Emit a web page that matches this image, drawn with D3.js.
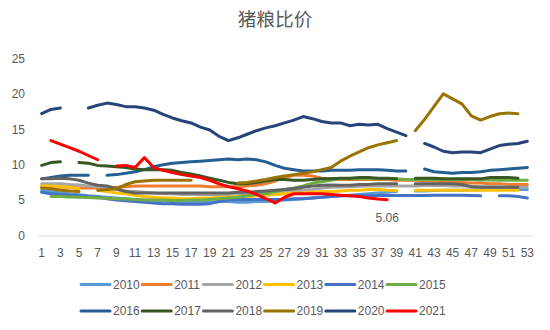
<!DOCTYPE html>
<html><head><meta charset="utf-8">
<script src="https://cdn.jsdelivr.net/npm/d3@7"></script>
<style>
html,body{margin:0;padding:0;background:#fff;}
svg{display:block;font-family:"Liberation Sans",Arial,sans-serif;}
</style></head>
<body><svg id="c" width="550" height="330"></svg>
<script>
const title = "猪粮比价";
const weeks = d3.range(1, 54);
const xTickLabels = weeks.filter(w => w % 2 === 1);
const yTicks = [0, 5, 10, 15, 20, 25];
const years = ["2010","2011","2012","2013","2014","2015","2016","2017","2018","2019","2020","2021"];
const colors = ["#5B9BD5","#ED7D31","#A5A5A5","#FFC000","#4472C4","#70AD47","#255E91","#385723","#636363","#997300","#264478","#FF0000"];
const _ = null;
const v2010 = [6.35,6.2,6.0,5.9,5.75,5.6,5.5,5.4,5.3,5.2,5.1,5.0,5.0,4.9,4.8,4.7,4.7,4.7,4.7,4.8,4.8,4.7,4.7,4.8,4.8,4.9,5.0,5.1,5.2,5.3,5.4,5.5,5.6,5.7,5.8,5.9,6.0,6.1,6.2,_,6.3,6.3,6.35,6.4,6.4,6.4,6.45,6.45,6.5,6.5,6.5,6.5,6.5];
const v2011 = [6.9,6.9,6.8,6.8,6.7,6.7,6.7,6.7,6.8,6.9,7.0,7.0,7.0,7.0,7.0,7.0,7.0,7.0,6.9,6.9,6.9,6.9,7.0,7.1,7.3,7.7,8.2,8.5,8.5,8.4,8.1,8.0,7.9,7.9,7.9,7.9,7.9,7.9,7.8,7.8,7.8,7.7,7.7,7.6,7.5,7.5,7.4,7.4,7.3,7.3,7.2,7.2,7.2];
const v2012 = [7.3,7.3,7.3,7.2,7.15,7.0,6.9,6.7,6.5,6.3,6.2,6.1,6.0,5.9,5.9,5.8,5.8,5.8,5.8,5.8,5.8,5.9,5.9,6.0,6.0,6.1,6.2,6.3,6.4,6.5,6.7,6.8,6.85,6.9,6.95,7.0,7.0,7.0,7.0,7.0,7.0,7.05,7.05,7.05,7.0,7.0,6.95,6.9,6.9,6.85,6.8,6.8,6.8];
const v2013 = [7.0,7.0,6.9,6.8,6.6,_,6.4,6.2,6.0,5.9,5.7,5.5,5.4,5.3,5.3,5.2,5.2,5.3,5.3,5.4,5.4,5.5,5.5,5.6,5.7,5.8,5.9,6.0,6.0,6.1,6.2,6.2,6.3,6.4,6.4,6.5,6.5,6.4,6.35,_,6.4,6.4,6.4,6.4,6.4,6.4,6.4,6.4,6.4,6.4,6.4,6.4,_];
const v2014 = [6.1,5.9,5.8,5.7,5.65,5.5,5.4,5.2,5.0,4.9,4.8,4.7,4.6,4.5,4.5,4.4,4.4,4.4,4.5,4.8,5.0,5.1,5.1,5.1,5.1,5.1,5.1,5.2,5.2,5.3,5.4,5.5,5.6,5.6,5.6,5.6,5.65,5.65,5.65,5.65,5.65,5.65,5.7,5.7,5.7,5.7,5.65,5.6,_,5.6,5.6,5.5,5.3];
const v2015 = [_,5.5,5.5,5.45,5.4,5.35,5.3,5.25,5.2,5.15,5.1,5.0,5.0,5.0,4.95,4.95,5.0,5.0,5.1,5.2,5.3,5.4,5.6,5.8,5.9,6.2,6.5,6.7,7.0,7.4,7.6,7.8,8.0,8.0,8.0,8.0,8.0,8.0,8.0,7.9,7.9,7.9,7.9,7.9,7.9,7.9,7.9,7.85,7.85,7.8,7.8,7.8,7.8];
const v2016 = [8.0,8.2,8.4,8.5,8.5,8.5,_,8.5,8.6,8.8,9.0,9.3,9.7,10.0,10.2,10.3,10.4,10.5,10.6,10.7,10.8,10.7,10.8,10.7,10.4,9.9,9.5,9.3,9.1,9.1,9.1,9.2,9.2,9.2,9.3,9.3,9.3,9.2,9.1,9.1,_,9.4,9.0,8.9,8.8,8.9,8.9,9.0,9.2,9.3,9.4,9.5,9.6];
const v2017 = [9.9,10.3,10.4,_,10.3,10.2,9.9,9.8,9.7,9.6,9.4,9.3,9.3,9.3,9.2,8.9,8.7,8.4,8.1,7.8,7.5,7.3,7.3,7.5,7.7,7.9,7.9,7.8,7.8,7.9,8.0,8.0,8.1,8.1,8.2,8.2,8.1,8.1,8.0,_,8.1,8.1,8.1,8.0,8.0,8.0,8.0,8.0,8.2,8.2,8.2,8.1,_];
const v2018 = [8.0,8.0,8.1,8.0,7.8,7.4,7.1,7.0,6.6,6.2,6.0,6.0,6.0,6.0,6.0,6.0,6.0,6.0,6.0,6.0,6.0,6.1,6.1,6.2,6.3,6.4,6.5,6.6,6.8,7.0,7.1,7.15,7.1,7.1,7.2,7.2,7.3,7.3,7.3,_,7.3,7.3,7.3,7.3,7.3,7.2,6.9,6.8,6.8,6.8,6.8,6.8,_];
const v2019 = [6.7,6.6,6.4,6.3,6.2,_,6.4,6.5,6.6,7.2,7.6,7.7,7.8,7.8,7.8,7.8,7.8,_,_,_,_,7.4,7.5,7.7,7.9,8.2,8.4,8.6,8.8,9.0,9.3,9.6,10.5,11.2,11.8,12.4,12.8,13.1,13.4,_,14.8,16.4,18.2,20.0,19.3,18.6,16.9,16.3,16.8,17.2,17.3,17.2,_];
const v2020 = [17.2,17.8,18.0,_,_,18.0,18.4,18.7,18.5,18.2,18.2,18.0,17.7,17.1,16.6,16.2,15.9,15.3,14.9,14.0,13.4,13.8,14.3,14.8,15.2,15.5,15.9,16.3,16.8,16.5,16.1,15.9,15.9,15.5,15.7,15.6,15.7,15.1,14.6,14.1,_,13.0,12.5,11.9,11.7,11.8,11.8,11.7,12.2,12.7,12.9,13.0,13.3];
const v2021 = [_,13.4,12.9,12.4,11.9,11.3,10.7,_,9.8,9.9,9.6,11.0,9.6,9.2,8.9,8.6,8.4,8.2,7.8,7.3,6.9,6.6,6.3,5.8,5.2,4.6,5.4,5.9,5.9,5.9,5.9,5.8,5.7,5.6,5.5,5.3,5.15,5.06];
const seriesValues = [v2010,v2011,v2012,v2013,v2014,v2015,v2016,v2017,v2018,v2019,v2020,v2021];
const lastLabel = "5.06";

const svg = d3.select("#c");
const x = d3.scaleBand().domain(weeks).range([37, 532]).padding(0);
const cx = w => x(w) + x.bandwidth() / 2;
const y = d3.scaleLinear().domain([0, 25]).range([235.5, 58.5]);

svg.append("text").attr("x", 275).attr("y", 26).attr("text-anchor", "middle")
  .attr("font-size", "18.7px").attr("fill", "#595959")
  .attr("font-family", "'Noto Sans CJK SC',sans-serif").text(title);

const yAxis = svg.append("g").attr("transform", "translate(37,0)")
  .call(d3.axisLeft(y).tickValues(yTicks).tickSize(0).tickPadding(12));
yAxis.select(".domain").remove();
yAxis.selectAll("text").attr("fill", "#595959").attr("font-size", "12px").attr("font-family", "'Liberation Sans',Arial,sans-serif");

const xAxis = svg.append("g").attr("transform", "translate(0,235.5)")
  .call(d3.axisBottom(x).tickValues(xTickLabels).tickSize(0).tickPadding(13));
xAxis.select(".domain").attr("stroke", "#d9d9d9").attr("stroke-width", 1);
xAxis.selectAll("text").attr("fill", "#595959").attr("font-size", "12px").attr("font-family", "'Liberation Sans',Arial,sans-serif");

const line = d3.line().defined(d => d.v != null).x(d => cx(d.w)).y(d => y(d.v));
seriesValues.forEach((vals, i) => {
  const data = vals.map((v, k) => ({w: weeks[k], v: v}));
  svg.append("path").datum(data).attr("d", line)
    .attr("fill", "none").attr("stroke", colors[i]).attr("stroke-width", 3)
    .attr("stroke-linejoin", "round").attr("stroke-linecap", "round");
});

const lastIdx = v2021.length - 1;
svg.append("text").attr("x", cx(weeks[lastIdx])).attr("y", y(v2021[lastIdx]) + 22)
  .attr("text-anchor", "middle").attr("font-size", "12px").attr("fill", "#595959").text(lastLabel);

const legend = svg.append("g");
years.forEach((yr, i) => {
  const row = Math.floor(i / 6), col = i % 6;
  const lx = 81 + col * 61.2, ly = 284.5 + row * 26.5;
  legend.append("line").attr("x1", lx).attr("x2", lx + 29).attr("y1", ly).attr("y2", ly)
    .attr("stroke", colors[i]).attr("stroke-width", 3).attr("stroke-linecap", "round");
  legend.append("text").attr("x", lx + 32).attr("y", ly + 4.3).attr("font-size", "12px")
    .attr("fill", "#595959").text(yr);
});
</script></body></html>
